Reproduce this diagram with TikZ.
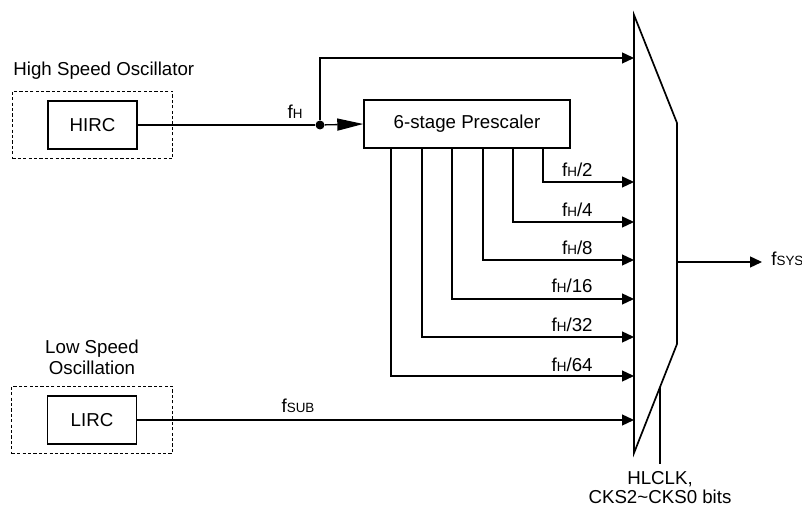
\documentclass[tikz,border=0pt]{standalone}
\usepackage{fontspec}
\setmainfont{Liberation Sans}
\usetikzlibrary{positioning,arrows.meta,fit}
\newcommand{\fsig}[1]{f{\fontsize{6.7}{7}\selectfont #1}}

\begin{document}
\begin{tikzpicture}[
  x=0.5pt, y=-0.5pt,
  font=\fontsize{9.35}{10.5}\selectfont,
  osc/.style={rectangle, draw, line width=0.7pt, minimum width=44.5pt, minimum height=24pt},
  grp/.style={rectangle, draw, line width=0.6pt, dash pattern=on 1.6pt off 1.1pt,
              inner xsep=17.5pt, inner ysep=4.5pt},
  lbl/.style={inner sep=0pt},
  wire/.style={line width=0.65pt},
  arr/.style={-{Triangle[length=6pt,width=5.5pt]}, line width=0.65pt},
  bigarr/.style={-{Triangle[length=13pt,width=6pt]}, line width=0.65pt},
  dot/.style={circle, fill, inner sep=0pt, minimum size=4.5pt}
]
\useasboundingbox (0,0) rectangle (802,506);

% oscillators
\node[osc] (hirc) at (92.5,125) {HIRC};
\node[grp, fit=(hirc)] (hbox) {};
\node[lbl, anchor=base west] (hlbl) at (13,76) {High Speed Oscillator};
\node[osc] (lirc) at (92,420) {LIRC};
\node[grp, fit=(lirc)] (lbox) {};
\node[lbl, align=center] (llbl) at (92,357) {Low Speed\\Oscillation};

% prescaler
\node[osc, minimum width=103pt] (pre) at (467,124) {6-stage Prescaler};
\node[dot] (j) at (320,125) {};
\node[lbl, anchor=base] (fh) at (295,119) {\fsig{H}};

% multiplexer
\coordinate (mtop) at (634,15);
\coordinate (mtr)  at (677,123);
\coordinate (mbr)  at (677,344);
\coordinate (mbot) at (634,453);
\draw[line width=0.85pt] (mtop) -- (mtr) -- (mbr) -- (mbot) -- cycle;

% mux inputs
\coordinate (m0)   at (634,58);
\coordinate (m2)   at (634,182);
\coordinate (m4)   at (634,222);
\coordinate (m8)   at (634,260);
\coordinate (m16)  at (634,299);
\coordinate (m32)  at (634,337);
\coordinate (m64)  at (634,376);
\coordinate (msub) at (634,420);

% prescaler taps
\coordinate (t2)  at (543,148);
\coordinate (t4)  at (513,148);
\coordinate (t8)  at (483,148);
\coordinate (t16) at (452,148);
\coordinate (t32) at (422,148);
\coordinate (t64) at (391,148);

\draw[wire] (hirc.east) -- (j);
\draw[bigarr] (j) -- (pre.west);
\draw[arr] (j) |- (m0);

\draw[arr] (t2)  |- (m2);
\draw[arr] (t4)  |- (m4);
\draw[arr] (t8)  |- (m8);
\draw[arr] (t16) |- (m16);
\draw[arr] (t32) |- (m32);
\draw[arr] (t64) |- (m64);
\node[lbl, anchor=base east] (l2)  at (593,177) {\fsig{H}/2};
\node[lbl, anchor=base east] (l4)  at (593,217) {\fsig{H}/4};
\node[lbl, anchor=base east] (l8)  at (593,255) {\fsig{H}/8};
\node[lbl, anchor=base east] (l16) at (593,293) {\fsig{H}/16};
\node[lbl, anchor=base east] (l32) at (593,332) {\fsig{H}/32};
\node[lbl, anchor=base east] (l64) at (593,372) {\fsig{H}/64};

\draw[arr] (lirc.east) -- (msub);
\node[lbl, anchor=base] (fsub) at (298,413) {\fsig{SUB}};

% output
\coordinate (mout) at (677,262);
\coordinate (oend) at (762,262);
\draw[arr] (mout) -- (oend);
\node[lbl, anchor=base west] (fsys) at (771,266) {\fsig{SYS}};

% select
\coordinate (sel)    at (660,387);
\coordinate (selend) at (660,464);
\draw[wire] (sel) -- (selend);
\node[lbl, align=center, font=\fontsize{9.35}{9.5}\selectfont] (ctl) at (660,488)
  {HLCLK,\\CKS2\textasciitilde CKS0 bits};
\end{tikzpicture}
\end{document}
